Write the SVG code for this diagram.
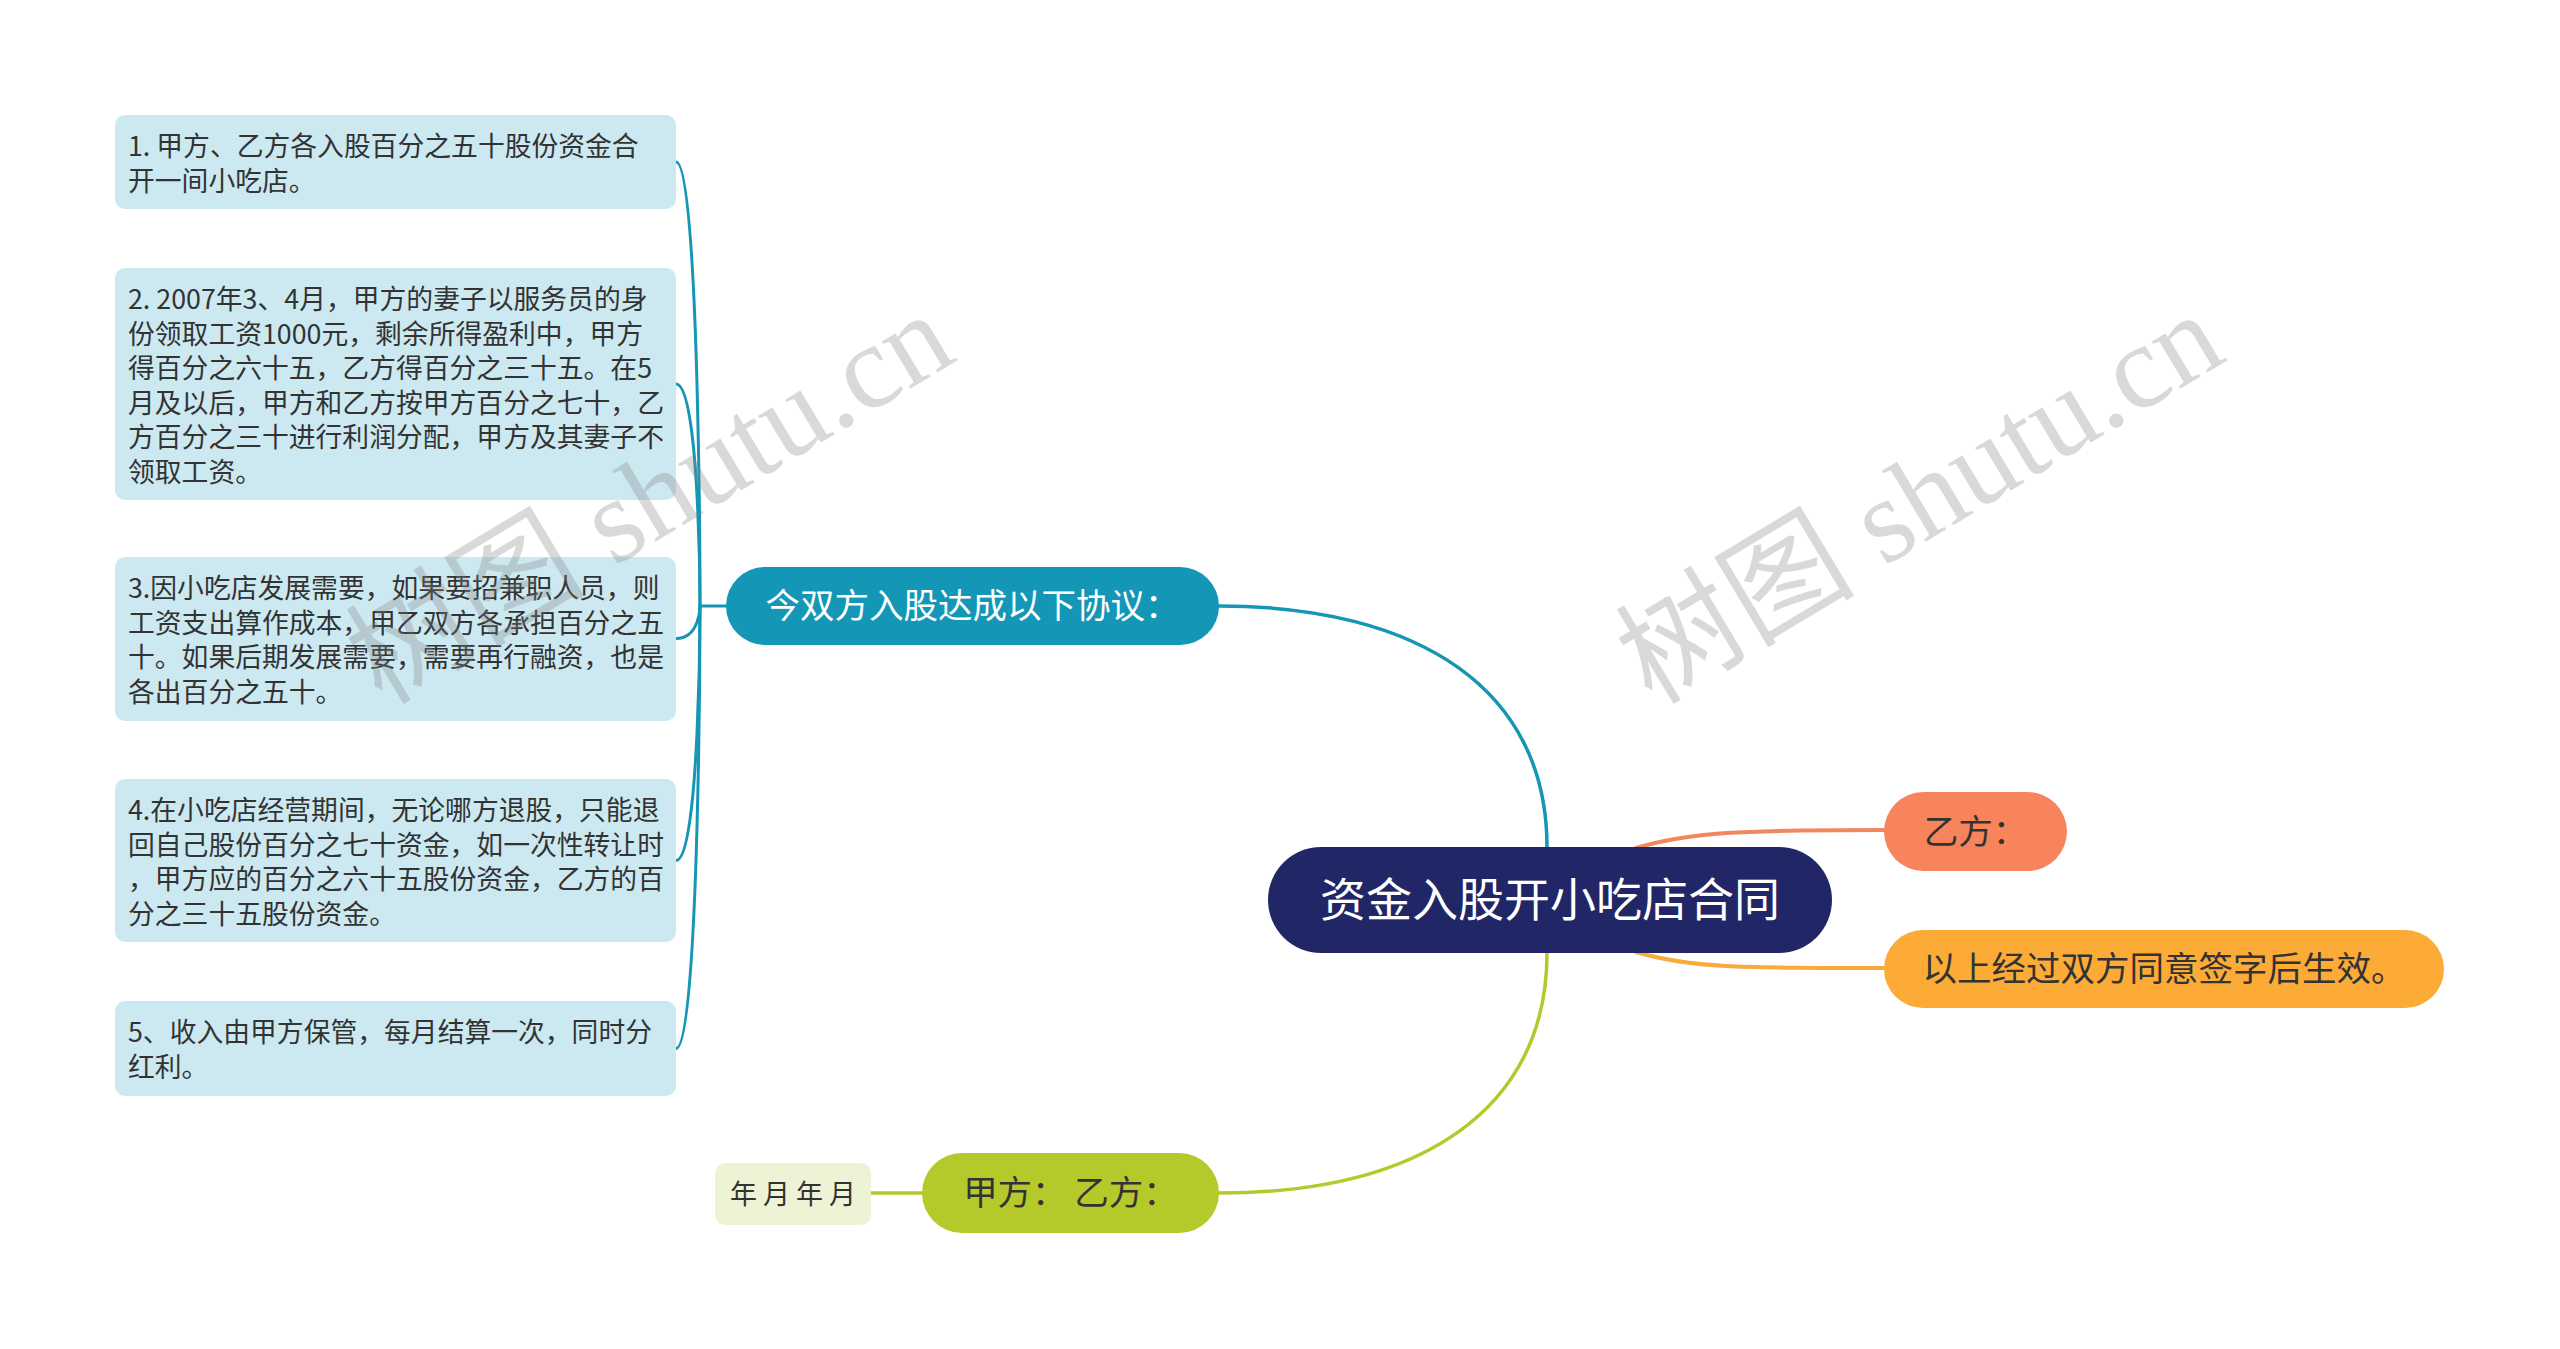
<svg xmlns="http://www.w3.org/2000/svg" width="2560" height="1349" viewBox="0 0 2560 1349">
<style>
text { font-family: "Noto Sans CJK SC", "Microsoft YaHei", sans-serif; }
.conn { fill: none; stroke-linecap: round; }
.teal { stroke: #1596b5; stroke-width: 3.5; }
.tealthin { stroke: #1596b5; stroke-width: 3; }
.green { stroke: #b6c82c; stroke-width: 3.5; }
.orange { stroke: #f1875f; stroke-width: 4; }
.amber { stroke: #f8aa3a; stroke-width: 4; }
.leaf rect { fill: #cce9f1; }
.leaf text { font-size: 26.8px; fill: #333333; }
.dark { fill: #333333; }
.wm { font-family: "Liberation Serif", "Noto Sans CJK SC", serif; font-size: 120px; fill: #808080; fill-opacity: 0.3; }
</style>
<rect width="2560" height="1349" fill="#ffffff"/>
<g id="connectors">
  <path class="conn teal" d="M1219,606 C1420,606 1547,690 1547,847"/>
  <path class="conn green" d="M1547,953 C1547,1110 1420,1193 1219,1193"/>
  <path class="conn orange" d="M1636,848 C1690,832 1740,830 1884,830"/>
  <path class="conn amber" d="M1636,952 C1690,968 1740,968 1884,968"/>
  <path class="conn tealthin" d="M726,606 L700,606"/>
  <path class="conn tealthin" d="M700,606 C700,606 700,162 676,162"/>
  <path class="conn tealthin" d="M700,606 C700,606 700,384 676,384"/>
  <path class="conn tealthin" d="M700,606 C700,606 700,638.5 676,638.5"/>
  <path class="conn tealthin" d="M700,606 C700,606 700,860.5 676,860.5"/>
  <path class="conn tealthin" d="M700,606 C700,606 700,1048.5 676,1048.5"/>
  <path class="conn green" d="M871,1193 L922,1193"/>
</g>
<g id="root">
  <rect x="1268" y="847" width="564" height="106" rx="53" fill="#212766"/>
  <text x="1550" y="916" font-size="46" fill="#ffffff" text-anchor="middle">资金入股开小吃店合同</text>
</g>
<g id="agreement">
  <rect x="726" y="567" width="493" height="78" rx="39" fill="#1497b6"/>
  <text x="972.5" y="618" font-size="34.5" fill="#ffffff" text-anchor="middle">今双方入股达成以下协议：</text>
</g>
<g id="yifang">
  <rect x="1884" y="792" width="183" height="79" rx="39.5" fill="#f7845a"/>
  <text x="1975.5" y="843.5" font-size="34.5" class="dark" text-anchor="middle">乙方：</text>
</g>
<g id="effective">
  <rect x="1884" y="930" width="560" height="78" rx="39" fill="#fbab36"/>
  <text x="2164" y="981" font-size="34.5" class="dark" text-anchor="middle">以上经过双方同意签字后生效。</text>
</g>
<g id="sign">
  <rect x="922" y="1153" width="297" height="80" rx="40" fill="#b6c92b"/>
  <text x="1070.5" y="1205" font-size="34.5" class="dark" text-anchor="middle">甲方： 乙方：</text>
</g>
<g id="date">
  <rect x="715" y="1163" width="156" height="62" rx="10" fill="#eef3d6"/>
  <text x="793" y="1203.5" font-size="27" class="dark" text-anchor="middle">年 月 年 月</text>
</g>
<g id="item1" class="leaf">
  <rect x="115" y="115" width="561" height="94" rx="10"/>
  <text x="128" y="156">1. 甲方、乙方各入股百分之五十股份资金合</text>
  <text x="128" y="190.6">开一间小吃店。</text>
</g>
<g id="item2" class="leaf">
  <rect x="115" y="268" width="561" height="232" rx="10"/>
  <text x="128" y="309">2. 2007年3、4月，甲方的妻子以服务员的身</text>
  <text x="128" y="343.6">份领取工资1000元，剩余所得盈利中，甲方</text>
  <text x="128" y="378.2">得百分之六十五，乙方得百分之三十五。在5</text>
  <text x="128" y="412.8">月及以后，甲方和乙方按甲方百分之七十，乙</text>
  <text x="128" y="447.4">方百分之三十进行利润分配，甲方及其妻子不</text>
  <text x="128" y="482">领取工资。</text>
</g>
<g id="item3" class="leaf">
  <rect x="115" y="557" width="561" height="164" rx="10"/>
  <text x="128" y="598">3.因小吃店发展需要，如果要招兼职人员，则</text>
  <text x="128" y="632.6">工资支出算作成本，甲乙双方各承担百分之五</text>
  <text x="128" y="667.2">十。如果后期发展需要，需要再行融资，也是</text>
  <text x="128" y="701.8">各出百分之五十。</text>
</g>
<g id="item4" class="leaf">
  <rect x="115" y="779" width="561" height="163" rx="10"/>
  <text x="128" y="820">4.在小吃店经营期间，无论哪方退股，只能退</text>
  <text x="128" y="854.6">回自己股份百分之七十资金，如一次性转让时</text>
  <text x="128" y="889.2">，甲方应的百分之六十五股份资金，乙方的百</text>
  <text x="128" y="923.8">分之三十五股份资金。</text>
</g>
<g id="item5" class="leaf">
  <rect x="115" y="1001" width="561" height="95" rx="10"/>
  <text x="128" y="1042">5、收入由甲方保管，每月结算一次，同时分</text>
  <text x="128" y="1076.6">红利。</text>
</g>
<g id="watermarks">
  <text class="wm" transform="translate(1652,706) rotate(-31)">树图 shutu.cn</text>
  <text class="wm" transform="translate(382,706) rotate(-31)">树图 shutu.cn</text>
</g>
</svg>
